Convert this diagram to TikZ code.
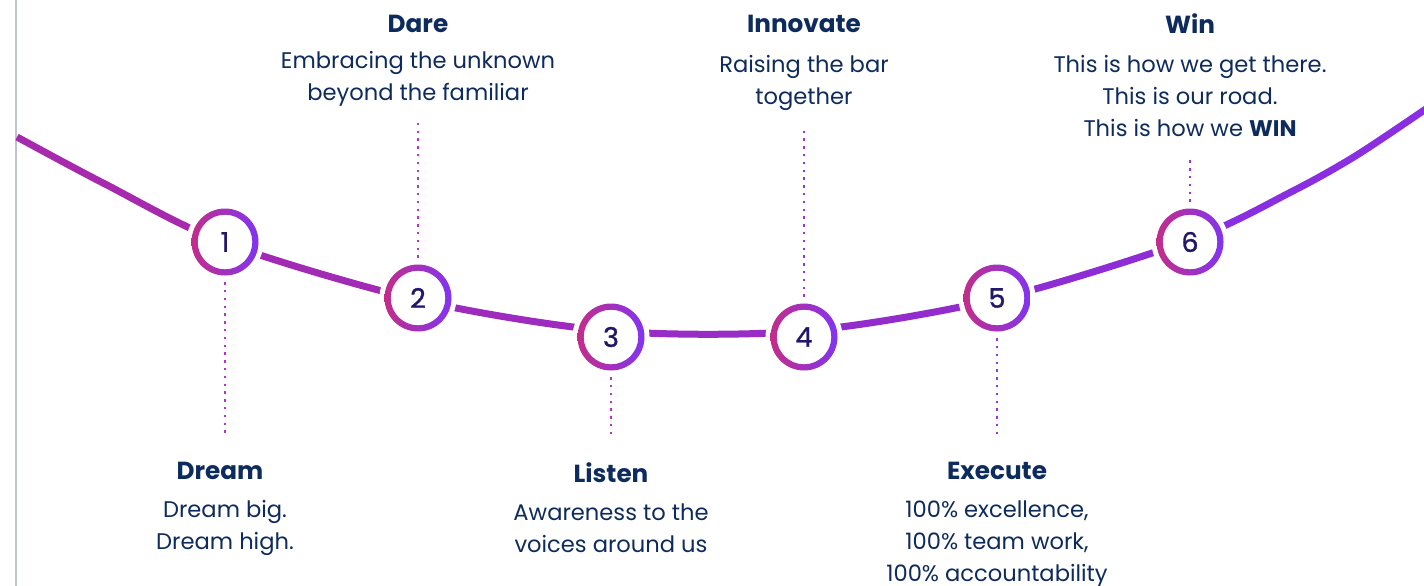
\documentclass[tikz,border=0pt]{standalone}
\usepackage{fontspec}
\newfontfamily\pop{Poppins}
\newfontfamily\popnum[FakeBold=1.2]{Poppins}
\definecolor{navy}{HTML}{0E2B5D}
\definecolor{numc}{HTML}{22186A}
\definecolor{mag}{HTML}{C22D8A}
\definecolor{pur}{HTML}{8234F2}
\definecolor{dotl}{HTML}{B236C6}
\definecolor{dotr}{HTML}{9634E2}
\definecolor{sA}{HTML}{A72AAE}
\definecolor{sB}{HTML}{A22BB5}
\definecolor{sC}{HTML}{9D2BBD}
\definecolor{sD}{HTML}{982CC5}
\definecolor{sE}{HTML}{932CCD}
\definecolor{sF}{HTML}{8E2DD6}
\definecolor{sG}{HTML}{892EE0}
\begin{document}
\begin{tikzpicture}[x=1pt,y=-1pt,
  numnode/.style={circle,minimum size=66pt,inner sep=0pt,text=numc,font=\popnum\fontsize{27}{27}\selectfont},
  ttl/.style={inner sep=0pt,text=navy,font=\pop\bfseries\fontsize{24.7}{28}\selectfont},
  body/.style={inner sep=0pt,text=navy,align=center,font=\pop\fontsize{22.6}{32}\selectfont},
  road/.style={line width=7pt},
  dotline/.style={line width=2.4pt,dash pattern=on 2.4pt off 5.4pt}]
\useasboundingbox (0,0) rectangle (1424,586);
\fill[white] (0,0) rectangle (1424,586);
\draw[line width=1.5pt,color={rgb,255:red,192;green,196;blue,210}] (16,0) -- (16,586);
% circle positions
\coordinate (p1) at (225,242);
\coordinate (p2) at (418,298);
\coordinate (p3) at (611,337);
\coordinate (p4) at (804,337);
\coordinate (p5) at (997,298);
\coordinate (p6) at (1190,242);
% road through points
\coordinate (st) at (17,137);
\coordinate (ra) at (105,184);
\coordinate (q1) at (225,243);
\coordinate (q2) at (418,300);
\coordinate (q3) at (611,331);
\coordinate (q4) at (804,331);
\coordinate (q5) at (997,299);
\coordinate (q6) at (1190,240);
\coordinate (rb) at (1291,192);
\coordinate (rd) at (1357,155);
\coordinate (en) at (1436,102);
% road with colour gradient
\foreach \xa/\xb/\col in {0/225/sA,225/418/sB,418/611/sC,611/804/sD,804/997/sE,997/1190/sF,1190/1440/sG}{
  \begin{scope}
    \clip (\xa,-10) rectangle (\xb,600);
    \draw[road,draw=\col] plot[smooth,tension=0.5] coordinates {(st) (ra) (q1) (q2) (q3) (q4) (q5) (q6) (rb) (rd) (en)};
  \end{scope}
}
% numbered circles
\foreach \i in {1,...,6}{
  \fill[white] (p\i) circle (38.5);
  \shade[left color=mag,right color=pur,even odd rule] (p\i) circle (33.5) (p\i) circle (27.3);
  \node[numnode] (c\i) at (p\i) {\i};
}
% texts
\node[ttl] (t2) at (418,24) {Dare};
\node[body,anchor=north] (b2) at (418,51) {Embracing the unknown\\beyond the familiar};
\node[ttl] (t4) at (804,24) {Innovate};
\node[body,anchor=north] (b4) at (804,55.5) {Raising the bar\\together};
\node[ttl] (t6) at (1190,24) {Win};
\node[body,anchor=north] (b6) at (1190,55.5) {This is how we get there.\\This is our road.\\This is how we \textbf{WIN}};
\node[ttl] (t1) at (220,471) {Dream};
\node[body,anchor=north] (b1) at (225,500.5) {Dream big.\\Dream high.};
\node[ttl] (t3) at (611,473) {Listen};
\node[body,anchor=north] (b3) at (611,504) {Awareness to the\\voices around us};
\node[ttl] (t5) at (997,471) {Execute};
\node[body,anchor=north] (b5) at (997,501) {100\% excellence,\\100\% team work,\\100\% accountability};
% dotted leaders
\coordinate (e1) at (225,438);
\coordinate (e2) at (418,119);
\coordinate (e3) at (611,438);
\coordinate (e4) at (804,128);
\coordinate (e5) at (997,438);
\coordinate (e6) at (1190,160);
\draw[dotline,dotl] ([yshift=-7pt]c1.south) -- (e1);
\draw[dotline,dotl] ([yshift=7pt]c2.north) -- (e2);
\draw[dotline,dotl] ([yshift=-7pt]c3.south) -- (e3);
\draw[dotline,dotr] ([yshift=7pt]c4.north) -- (e4);
\draw[dotline,dotr] ([yshift=-7pt]c5.south) -- (e5);
\draw[dotline,dotr] ([yshift=7pt]c6.north) -- (e6);
\end{tikzpicture}
\end{document}
